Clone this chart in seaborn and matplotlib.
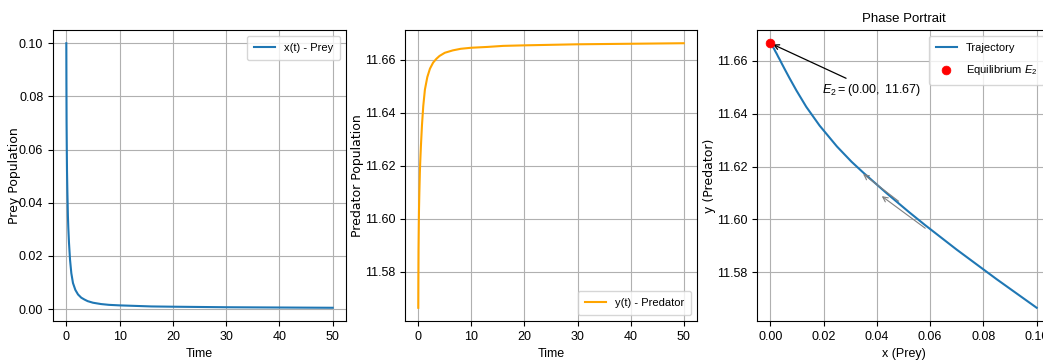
import numpy as np
import pandas as pd
import matplotlib
matplotlib.use("Agg")
import matplotlib.pyplot as plt
import seaborn as sns

# values
time = [0, 0.02, 0.05, 0.1, 0.13, 0.2, 0.3, 0.375, 0.5, 0.7, 0.94, 1.25, 1.7, 2.2, 2.8,
        3.4, 4, 5, 6.5, 8, 10, 13, 16, 20, 25, 30, 35, 40, 45, 50]
prey = [0.1, 0.085, 0.07, 0.058, 0.052, 0.044, 0.035, 0.0305, 0.025, 0.0185, 0.0135,
        0.0098, 0.0072, 0.0055, 0.0043, 0.0036, 0.003, 0.0024, 0.0019, 0.0016, 0.0014,
        0.0012, 0.001, 0.0009, 0.0008, 0.0007, 0.00065, 0.0006, 0.00055, 0.0005]
predator = [11.5665, 11.5773, 11.5885, 11.5979, 11.6028, 11.6096, 11.6176, 11.6218,
            11.6276, 11.6355, 11.6426, 11.6488, 11.6535, 11.6567, 11.6590, 11.6604,
            11.6615, 11.6627, 11.6636, 11.6642, 11.6646, 11.6649, 11.6653, 11.6655,
            11.6657, 11.6659, 11.6660, 11.6661, 11.6662, 11.6663]

eq_x = [0.0]
eq_y = [11.6667]

# small grey direction arrows on the phase portrait (tail -> head)
arrow_tail_x = [0.049, 0.059]
arrow_tail_y = [11.6062, 11.596]
arrow_head_x = [0.034, 0.041]
arrow_head_y = [11.6178, 11.6094]

df = pd.DataFrame({"t": time, "x": prey, "y": predator})

plt.rcParams["font.family"] = ["Liberation Sans", "DejaVu Sans"]
plt.rcParams["font.size"] = 9
plt.rcParams["mathtext.fontset"] = "custom"
plt.rcParams["mathtext.rm"] = "Liberation Sans"
plt.rcParams["mathtext.it"] = "Liberation Sans:italic"
plt.rcParams["axes.grid"] = True
plt.rcParams["grid.color"] = "#b0b0b0"
plt.rcParams["grid.linewidth"] = 0.8

fig = plt.figure(figsize=(10.43, 3.6), dpi=100)
W, H = 1043, 360
ax1 = fig.add_axes([53 / W, 39 / H, 293 / W, 291 / H])
ax2 = fig.add_axes([405 / W, 39 / H, 292 / W, 291 / H])
ax3 = fig.add_axes([757 / W, 39 / H, 293 / W, 291 / H])

ylab_font = dict(family="DejaVu Sans", fontsize=9)
leg_kw = dict(fontsize=8, borderpad=0.65, labelspacing=0.95, handlelength=1.9)

sns.lineplot(data=df, x="t", y="x", ax=ax1, color="#1f77b4", label="x(t) - Prey",
             sort=False, estimator=None)
ax1.set_xlabel("Time")
ax1.set_ylabel("Prey Population", **ylab_font)
ax1.yaxis.set_label_coords(-0.109, 0.5)
ax1.legend(loc="upper right", **leg_kw)

sns.lineplot(data=df, x="t", y="y", ax=ax2, color="orange", label="y(t) - Predator",
             sort=False, estimator=None)
ax2.set_xlabel("Time")
ax2.set_ylabel("Predator Population", **ylab_font)
ax2.yaxis.set_label_coords(-0.142, 0.5)
ax2.set_yticks([11.58, 11.60, 11.62, 11.64, 11.66])
ax2.legend(loc="lower right", **leg_kw)

sns.lineplot(data=df, x="x", y="y", ax=ax3, color="#1f77b4", label="Trajectory",
             sort=False, estimator=None)
for tx, ty, hx, hy in zip(arrow_tail_x, arrow_tail_y, arrow_head_x, arrow_head_y):
    ax3.annotate("", xy=(hx, hy), xytext=(tx, ty),
                 arrowprops=dict(arrowstyle="->", color="gray", lw=0.8))
sns.scatterplot(x=eq_x, y=eq_y, ax=ax3, color="red", s=40, edgecolor="red",
                label="Equilibrium $E_2$", zorder=5)
ax3.annotate(r"$E_2 = (0.00,\ 11.67)$", xy=(eq_x[0], eq_y[0]), xytext=(0.0195, 11.6489),
             va="center", arrowprops=dict(arrowstyle="->", color="black", lw=0.9),
             fontsize=9)
ax3.set_xlabel("x (Prey)")
ax3.set_ylabel("y (Predator)", **ylab_font)
ax3.yaxis.set_label_coords(-0.14, 0.5)
ax3.set_title("Phase Portrait", fontsize=9.5)
ax3.set_yticks([11.58, 11.60, 11.62, 11.64, 11.66])
ax3.legend(loc="upper right", **leg_kw)

for ax in (ax1, ax2, ax3):
    ax.set_axisbelow(True)

fig.savefig("out.png", dpi=100)
